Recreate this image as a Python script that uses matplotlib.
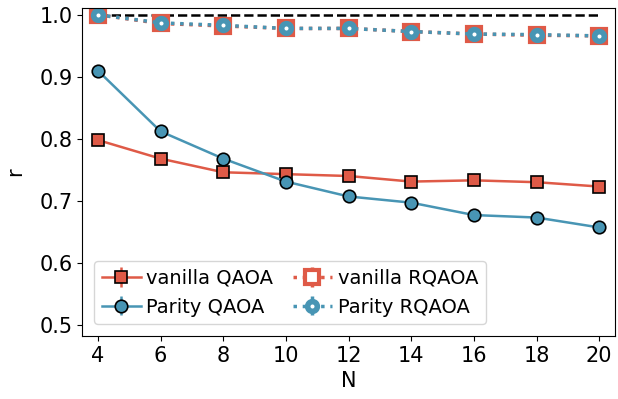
import matplotlib
matplotlib.use('Agg')
import matplotlib.pyplot as plt

N = [4, 6, 8, 10, 12, 14, 16, 18, 20]

vanilla_qaoa = [0.798, 0.768, 0.746, 0.743, 0.740, 0.731, 0.733, 0.730, 0.723]
vanilla_qaoa_err = [0.004, 0.004, 0.003, 0.003, 0.003, 0.003, 0.003, 0.003, 0.003]
parity_qaoa = [0.910, 0.812, 0.768, 0.731, 0.707, 0.697, 0.677, 0.673, 0.657]
parity_qaoa_err = [0.005, 0.010, 0.006, 0.005, 0.004, 0.004, 0.004, 0.003, 0.003]
vanilla_rqaoa = [1.000, 0.986, 0.982, 0.978, 0.978, 0.973, 0.969, 0.967, 0.966]
vanilla_rqaoa_err = [0.002, 0.004, 0.004, 0.004, 0.004, 0.004, 0.004, 0.004, 0.004]
parity_rqaoa = [1.000, 0.987, 0.983, 0.978, 0.978, 0.973, 0.969, 0.968, 0.966]
parity_rqaoa_err = [0.002, 0.006, 0.005, 0.005, 0.005, 0.005, 0.005, 0.005, 0.005]

red = '#df5a47'
blue = '#4895b4'

fig, ax = plt.subplots(figsize=(6.18, 3.99), dpi=100)
fig.subplots_adjust(left=0.133, right=0.995, top=0.98, bottom=0.158)

ax.plot([4, 20], [1, 1], 'k--', lw=1.8, zorder=1)

ax.errorbar(N, vanilla_qaoa, yerr=vanilla_qaoa_err, color=red, marker='s',
            ms=9, mfc=red, mec='k', mew=1.2, lw=1.8, label='vanilla QAOA')
ax.errorbar(N, parity_qaoa, yerr=parity_qaoa_err, color=blue, marker='o',
            ms=9, mfc=blue, mec='k', mew=1.2, lw=1.8, label='Parity QAOA')
ax.errorbar(N, vanilla_rqaoa, yerr=vanilla_rqaoa_err, color=red, marker='s',
            ms=10, mfc='white', mec=red, mew=3, lw=2.5, ls=':', label='vanilla RQAOA')
ax.errorbar(N, parity_rqaoa, yerr=parity_rqaoa_err, color=blue, marker='o',
            ms=7, mfc='white', mec=blue, mew=4, lw=2.5, ls=':', label='Parity RQAOA')

ax.set_xlim(3.5, 20.5)
ax.set_ylim(0.482, 1.011)
ax.set_xticks(N)
ax.set_yticks([0.5, 0.6, 0.7, 0.8, 0.9, 1.0])
ax.tick_params(labelsize=15)
ax.set_xlabel('N', fontsize=15)
ax.set_ylabel('r', fontsize=15, labelpad=10)

ax.legend(loc='lower left', ncol=2, fontsize=14, handlelength=2,
          columnspacing=1.0, handletextpad=0.3, borderaxespad=0.6,
          labelspacing=0.5)

plt.savefig('out.png')
